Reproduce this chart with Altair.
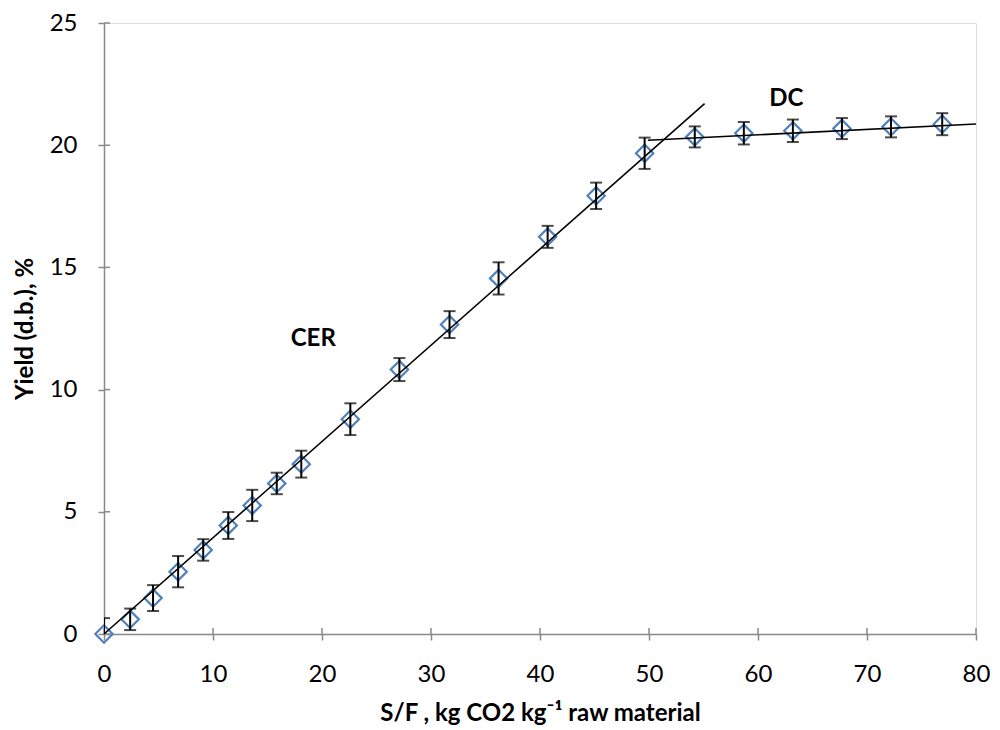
import altair as alt
import pandas as pd

# S/F (kg CO2 / kg raw material), yield (% d.b.), error (+/-)
sf = [0, 2.4, 4.5, 6.8, 9.1, 11.4, 13.6, 15.85, 18.1, 22.6, 27.1, 31.7, 36.2,
      40.7, 45.15, 49.6, 54.2, 58.7, 63.2, 67.7, 72.2, 76.9]
yld = [0, 0.6, 1.47, 2.55, 3.44, 4.44, 5.26, 6.16, 6.95, 8.79, 10.82, 12.66, 14.55,
       16.25, 17.93, 19.67, 20.34, 20.49, 20.59, 20.68, 20.75, 20.86]
err = [0.65, 0.44, 0.53, 0.64, 0.44, 0.55, 0.64, 0.44, 0.55, 0.65, 0.47, 0.55, 0.66,
       0.45, 0.54, 0.64, 0.43, 0.46, 0.46, 0.43, 0.43, 0.45]

# trend lines (CER and DC periods)
cer_x = [0, 55.1]
cer_y = [0, 21.7]
dc_x = [49.9, 80]
dc_y = [20.2, 20.87]

# annotations
lab_text = ["CER", "DC"]
lab_x = [19.2, 62.6]
lab_y = [12.07, 21.9]

# ticks
x_ticks = [0, 10, 20, 30, 40, 50, 60, 70, 80]
y_ticks = [0, 5, 10, 15, 20, 25]

FONT = "Lato"
W, H = 872, 611
AXIS_GRAY = "#898989"
BLUE = "#4F81BD"

df = pd.DataFrame({"x": sf, "y": yld, "lo": [a - b for a, b in zip(yld, err)],
                   "hi": [a + b for a, b in zip(yld, err)]})
trend = pd.DataFrame({"x": cer_x + dc_x, "y": cer_y + dc_y,
                      "seg": ["CER"] * 2 + ["DC"] * 2})
labels = pd.DataFrame({"x": lab_x, "y": lab_y, "t": lab_text})
xt = pd.DataFrame({"x": x_ticks})
yt = pd.DataFrame({"y": y_ticks})

xs = alt.Scale(domain=[0, 80], nice=False, zero=False)
ys = alt.Scale(domain=[0, 25], nice=False, zero=False)

X_TITLE = "S/F , kg CO2  kg\u207b\u00b9 raw material"
Y_TITLE = "Yield (d.b.), %"

x_axis = alt.Axis(values=x_ticks, grid=False, tickSize=6, tickColor=AXIS_GRAY,
                  tickWidth=1.5, domainColor=AXIS_GRAY, domainWidth=1.5,
                  labelFont=FONT, labelFontSize=24, labelColor="black",
                  labelFlush=False, labelPadding=22, titleFont=FONT,
                  titleFontSize=24, titleFontWeight="bold", titleColor="black",
                  titleX=W / 2, titleY=86, titleBaseline="alphabetic")
y_axis = alt.Axis(values=y_ticks, grid=False, tickSize=6, tickColor=AXIS_GRAY,
                  tickWidth=1.5, domainColor=AXIS_GRAY, domainWidth=1.5,
                  labelFont=FONT, labelFontSize=24, labelColor="black",
                  labelFlush=False, labelPadding=21, titleFont=FONT,
                  titleFontSize=24, titleFontWeight="bold", titleColor="black",
                  titleX=-79, titleY=H / 2, titleBaseline="middle",
                  titleAngle=270)


def X(field):
    return alt.X(field, scale=xs, axis=x_axis, title=X_TITLE)


def Y(field):
    return alt.Y(field, scale=ys, axis=y_axis, title=Y_TITLE)


points = alt.Chart(df).mark_point(shape="diamond", filled=False, size=300,
                                  strokeWidth=2.2, color=BLUE, opacity=1).encode(
    x=X("x:Q"), y=Y("y:Q"),
)

bars = alt.Chart(df).mark_rule(color="black", strokeWidth=2, clip=True).encode(
    x=X("x:Q"), y=Y("lo:Q"), y2="hi:Q",
)
caps_hi = alt.Chart(df).mark_tick(color="black", orient="horizontal", size=12,
                                  thickness=2, clip=True).encode(
    x=X("x:Q"), y=Y("hi:Q"),
)
caps_lo = alt.Chart(df).mark_tick(color="black", orient="horizontal", size=12,
                                  thickness=2, clip=True).encode(
    x=X("x:Q"), y=Y("lo:Q"),
)

lines = alt.Chart(trend).mark_line(color="black", strokeWidth=1.6).encode(
    x=X("x:Q"), y=Y("y:Q"), detail="seg:N",
)

text = alt.Chart(labels).mark_text(font=FONT, fontSize=24, fontWeight="bold",
                                   color="black").encode(
    x=X("x:Q"), y=Y("y:Q"), text="t:N",
)

# inward half of the crossing tick marks
xin = alt.Chart(xt).mark_rule(color=AXIS_GRAY, strokeWidth=1.5).encode(
    x=X("x:Q"), y=alt.value(H - 6), y2=alt.value(H),
)
yin = alt.Chart(yt).mark_rule(color=AXIS_GRAY, strokeWidth=1.5).encode(
    y=Y("y:Q"), x=alt.value(0), x2=alt.value(6),
)

chart = alt.layer(points, xin, yin, bars, caps_hi, caps_lo, lines, text).properties(
    width=W, height=H,
    autosize=alt.AutoSizeParams(type="none"),
    padding={"left": 96, "top": 15, "right": 16, "bottom": 92},
).configure_view(strokeWidth=0).configure(background="white")

chart.save("out.html", embed_options={"renderer": "svg", "actions": False})
